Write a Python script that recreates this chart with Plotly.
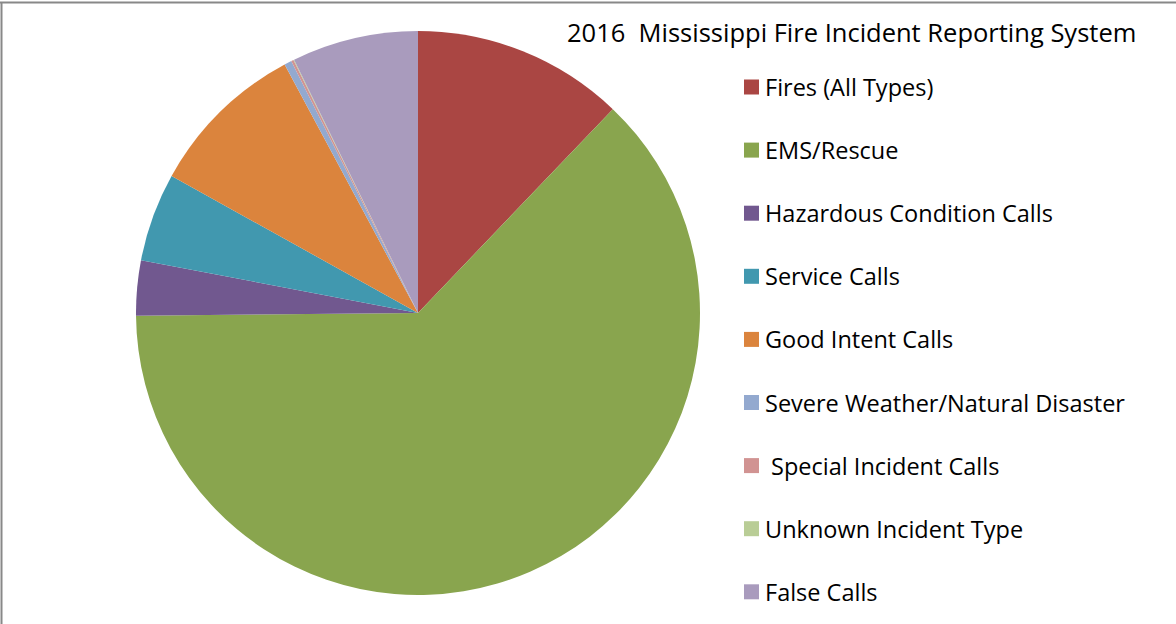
import plotly.graph_objects as go

categories = ["Fires (All Types)", "EMS/Rescue", "Hazardous Condition Calls", "Service Calls",
              "Good Intent Calls", "Severe Weather/Natural Disaster", " Special Incident Calls",
              "Unknown Incident Type", "False Calls"]
values = [12.14, 62.71, 3.15, 5.08, 9.08, 0.42, 0.14, 0.04, 7.24]
colors = ["#AA4643", "#89A54E", "#71588F", "#4198AF", "#DB843D", "#93A9CF", "#D19392", "#B9CD96", "#A99BBD"]
title_text = "2016  Mississippi Fire Incident Reporting System"

W, H = 1176, 624
fig = go.Figure()
fig.add_trace(go.Pie(
    labels=categories, values=values, sort=False, direction="clockwise", rotation=0,
    marker=dict(colors=colors, line=dict(width=0)), textinfo="none", hoverinfo="label+percent",
    showlegend=False,
    domain=dict(x=[(418 - 282) / W, (418 + 282) / W], y=[(624 - 595) / H, (624 - 31) / H]),
))

font = "Open Sans, Lato, sans-serif"
shapes = [
    dict(type="line", xref="paper", yref="paper", x0=1.5 / W, x1=1.5 / W, y0=0, y1=1 - 2 / H,
         line=dict(color="#888888", width=2)),
    dict(type="line", xref="paper", yref="paper", x0=0, x1=1, y0=1 - 2.5 / H, y1=1 - 2.5 / H,
         line=dict(color="#888888", width=2)),
]
annotations = [dict(text=title_text, xref="paper", yref="paper", x=565 / W, y=1 - 32 / H,
                    xanchor="left", yanchor="middle", showarrow=False,
                    font=dict(family=font, size=25.5, color="#000000"))]
for i, (lab, col) in enumerate(zip(categories, colors)):
    yc = 87 + i * 63.1
    shapes.append(dict(type="rect", xref="paper", yref="paper",
                       x0=744 / W, x1=759 / W, y0=1 - (yc + 7.5) / H, y1=1 - (yc - 7.5) / H,
                       fillcolor=col, line=dict(width=0)))
    annotations.append(dict(text=lab, xref="paper", yref="paper", x=763 / W, y=1 - yc / H,
                            xanchor="left", yanchor="middle", showarrow=False,
                            font=dict(family=font, size=23.5, color="#000000")))

fig.update_layout(width=W, height=H, margin=dict(l=0, r=0, t=0, b=0),
                  paper_bgcolor="white", plot_bgcolor="white",
                  shapes=shapes, annotations=annotations)
fig.write_html("out.html", config={"displayModeBar": False},
               post_script="document.body.style.margin='0';document.body.style.overflow='hidden';")
